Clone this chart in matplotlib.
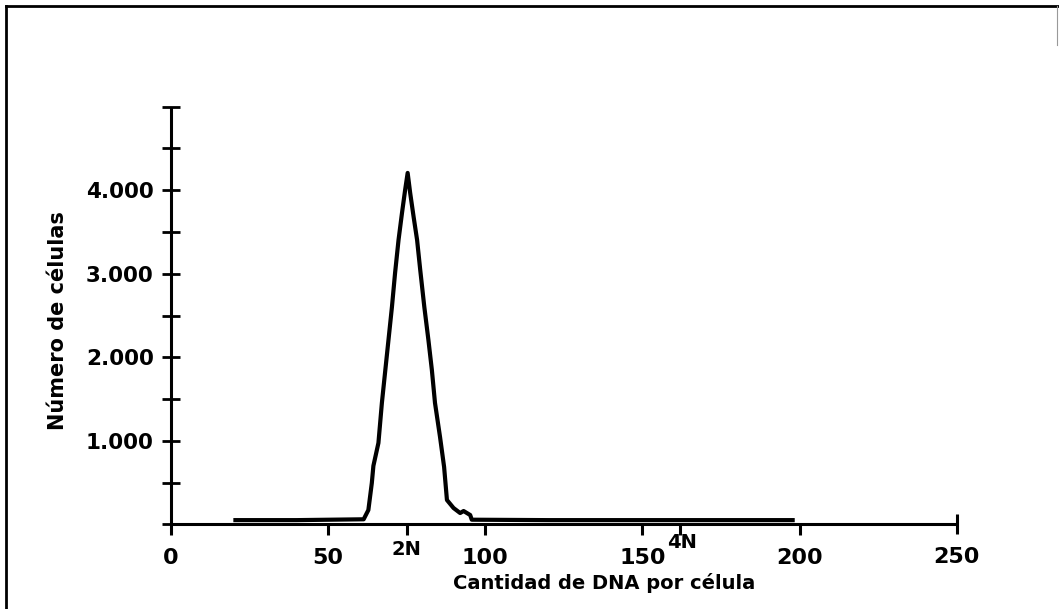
import matplotlib
matplotlib.use("Agg")
import matplotlib.pyplot as plt
from matplotlib.lines import Line2D

# ---- data ----
dna_channel = [20.5, 40.0, 61.3, 62.8, 63.9, 64.4, 66.0, 67.1, 68.2, 69.2, 70.3, 71.3,
               72.4, 73.5, 74.5, 75.3, 76.1, 77.2, 78.3, 79.3, 80.6, 81.9, 83.0,
               84.0, 85.6, 86.9, 87.8, 89.9, 92.0, 93.1, 95.2, 95.7, 120.0, 160.0, 197.8]
cell_count = [50, 50, 60, 171, 495, 700, 974, 1453, 1849, 2208, 2603, 3010,
              3405, 3728, 4004, 4207, 3968, 3680, 3405, 3046, 2603, 2208, 1849,
              1453, 1046, 686, 291, 195, 135, 159, 111, 55, 50, 50, 50]

x_ticks = [0, 50, 100, 150, 200]
x_end_tick = [250]
y_ticks = [0, 500, 1000, 1500, 2000, 2500, 3000, 3500, 4000, 4500, 5000]
y_tick_labels = ['', '', '1.000', '', '2.000', '', '3.000', '', '4.000', '', '']
ploidy_positions = [75, 162]
ploidy_labels = ['2N', '4N']

x_label = 'Cantidad de DNA por célula'
y_label = 'Número de células'

# ---- figure ----
W, H = 1059, 609
fig = plt.figure(figsize=(W / 100, H / 100), dpi=100)
fig.patch.set_facecolor('white')

# outer frame (left, top, short right piece)
fig.add_artist(Line2D([6 / W, 6 / W], [0, 1 - 6 / H], transform=fig.transFigure,
                      color='black', lw=2.0))
fig.add_artist(Line2D([6 / W, 1], [1 - 6 / H, 1 - 6 / H], transform=fig.transFigure,
                      color='black', lw=2.0))
fig.add_artist(Line2D([1057 / W, 1057 / W], [1 - 6 / H, 1 - 45 / H], transform=fig.transFigure,
                      color='#999999', lw=0.8))

ax_left, ax_right = 171 / W, 956.7 / W
ax_top, ax_bottom = 1 - 106.7 / H, 1 - 524.3 / H
ax = fig.add_axes([ax_left, ax_bottom, ax_right - ax_left, ax_top - ax_bottom])
ax.set_xlim(0, 250)
ax.set_ylim(0, 5000)
ax.patch.set_alpha(0)

for s in ['top', 'right']:
    ax.spines[s].set_visible(False)
for s in ['left', 'bottom']:
    ax.spines[s].set_linewidth(2.2)
    ax.spines[s].set_capstyle('butt')

ax.plot(dna_channel, cell_count, color='black', lw=3.0, solid_joinstyle='round',
        clip_on=False, zorder=3)

font = dict(family='DejaVu Sans', weight='bold')

# x ticks
ax.set_xticks(x_ticks)
ax.set_xticklabels([str(v) for v in x_ticks], fontsize=16, **font)
ax.set_xticks(x_end_tick, minor=True)
ax.set_xticklabels([str(v) for v in x_end_tick], minor=True, fontsize=16, **font)
ax.tick_params(axis='x', which='major', direction='out', length=8, width=2.2, pad=9)
ax.tick_params(axis='x', which='minor', direction='inout', length=14, width=2.2, pad=9.7)

# y ticks
ax.set_yticks(y_ticks)
ax.set_yticklabels(y_tick_labels, fontsize=15.5, **font)
ax.tick_params(axis='y', which='major', direction='inout', length=13, width=2.0, pad=6)

# 2N / 4N markers
sec = ax.secondary_xaxis('bottom')
sec.set_xticks(ploidy_positions)
sec.set_xticklabels([])
sec.tick_params(direction='out', length=8, width=2.2)
sec.spines['bottom'].set_visible(False)
ploidy_offsets = [(0, -11), (1, -6)]
for pos, lab, off in zip(ploidy_positions, ploidy_labels, ploidy_offsets):
    ax.annotate(lab, xy=(pos, 0), xycoords=('data', 'axes fraction'),
                xytext=off, textcoords='offset points',
                ha='center', va='top', fontsize=14, **font)

ax.set_xlabel(x_label, fontsize=14, **font)
ax.set_ylabel(y_label, fontsize=15, **font)
ax.xaxis.set_label_coords(0.551, -0.1406)
ax.yaxis.set_label_coords(-0.1438, 0.489)
ax.xaxis.label.set_va('center')
ax.yaxis.label.set_va('center')

fig.savefig('out.png', dpi=100, facecolor='white')
